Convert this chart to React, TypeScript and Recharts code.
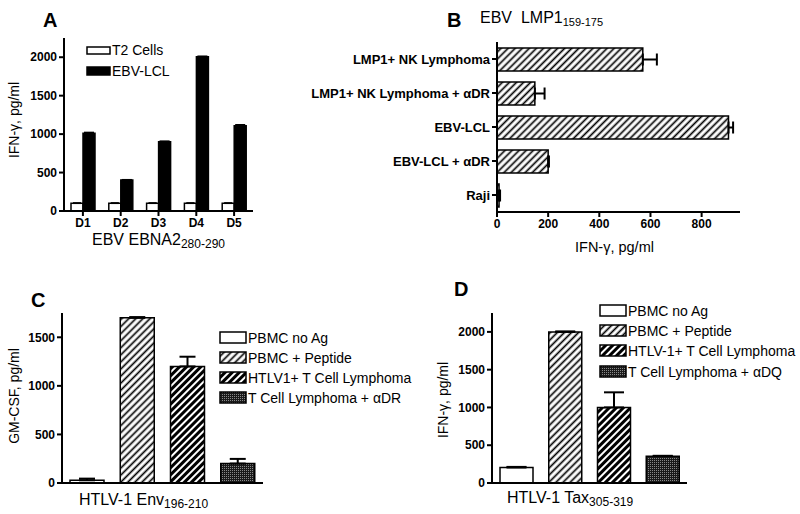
import { BarChart, Bar, XAxis, YAxis, ErrorBar, Cell } from 'recharts';

// panel A - EBV EBNA2
const aDonors = ['D1', 'D2', 'D3', 'D4', 'D5'];
const aT2 = [100, 100, 100, 100, 100];
const aT2Err = [4, 4, 4, 4, 4];
const aLcl = [1010, 403, 902, 2005, 1110];
const aLclErr = [12, 4, 6, 8, 12];

// panel B - EBV LMP1
const bCats = ['LMP1+ NK Lymphoma', 'LMP1+ NK Lymphoma + \u03b1DR', 'EBV-LCL', 'EBV-LCL + \u03b1DR', 'Raji'];
const bVals = [570, 148, 905, 200, 8];
const bErr = [55, 38, 18, 3, 4];

// panel C - HTLV-1 Env
const cCats = ['PBMC no Ag', 'PBMC + Peptide', 'HTLV1+ T Cell Lymphoma', 'T Cell Lymphoma + \u03b1DR'];
const cVals = [28, 1700, 1200, 200];
const cErr = [17, 8, 100, 48];

// panel D - HTLV-1 Tax
const dCats = ['PBMC no Ag', 'PBMC + Peptide', 'HTLV-1+ T Cell Lymphoma', 'T Cell Lymphoma + \u03b1DQ'];
const dVals = [205, 2000, 1000, 355];
const dErr = [8, 6, 200, 5];

const fills = ['#fff', 'url(#hatchLight)', 'url(#hatchDark)', 'url(#dots)'];

const aData = aDonors.map((name, i) => ({ name, t2: aT2[i], t2Err: [0, aT2Err[i]], lcl: aLcl[i], lclErr: [0, aLclErr[i]] }));
const bData = bCats.map((name, i) => ({ name, v: bVals[i], err: [0, bErr[i]] }));
const cData = cCats.map((name, i) => ({ name, v: cVals[i], err: [0, cErr[i]] }));
const dData = dCats.map((name, i) => ({ name, v: dVals[i], err: [0, dErr[i]] }));

const FONT = '"Liberation Sans", Arial, sans-serif';
const tickStyle = { fontSize: 12, fontWeight: 'bold', fill: '#000', fontFamily: FONT };
const axisLine = { stroke: '#000', strokeWidth: 2 };

const box = (left: number, top: number) => ({ position: 'absolute' as const, left, top });

function Legend({ x, ys, labels }: { x: number; ys: number[]; labels: string[] }) {
  return (
    <g>
      {labels.map((l, i) => (
        <g key={l}>
          <rect x={x} y={ys[i]} width={26} height={11} fill={fills[i]} stroke="#000" strokeWidth={1.5} />
          <text x={x + 28} y={ys[i] + 11} fontSize={14}>{l}</text>
        </g>
      ))}
    </g>
  );
}

export default function App() {
  return (
    <div style={{ position: 'absolute', left: 0, top: 0, width: 800, height: 514, background: '#fff', fontFamily: FONT }}>
      <div style={box(0, 0)}>
        <BarChart width={270} height={250} data={aData} margin={{ top: 38, right: 17, bottom: 19, left: 24 }} barGap={0} barSize={12}>
          <XAxis dataKey="name" height={20} tick={tickStyle} axisLine={axisLine} tickLine={axisLine} tickSize={5} />
          <YAxis width={40} domain={[0, 2250]} ticks={[0, 500, 1000, 1500, 2000]} tick={tickStyle} axisLine={axisLine} tickLine={axisLine} tickSize={5} />
          <Bar dataKey="t2" fill="#fff" stroke="#000" strokeWidth={1.5} isAnimationActive={false}>
            <ErrorBar dataKey="t2Err" width={4} stroke="#000" strokeWidth={1.5} />
          </Bar>
          <Bar dataKey="lcl" fill="#000" stroke="#000" strokeWidth={1.5} isAnimationActive={false}>
            <ErrorBar dataKey="lclErr" width={5} stroke="#000" strokeWidth={1.5} />
          </Bar>
        </BarChart>
      </div>

      <div style={box(270, 0)}>
        <BarChart width={530} height={250} data={bData} layout="vertical" margin={{ top: 42, right: 60, bottom: 18, left: 7 }} barSize={23}>
          <XAxis type="number" height={20} domain={[0, 950]} ticks={[0, 200, 400, 600, 800]} tick={tickStyle} axisLine={axisLine} tickLine={axisLine} tickSize={5} />
          <YAxis type="category" dataKey="name" width={220} tick={{ ...tickStyle, fontSize: 13 }} axisLine={axisLine} tickLine={axisLine} tickSize={5} />
          <Bar dataKey="v" fill="url(#hatchLight)" stroke="#000" strokeWidth={1.5} isAnimationActive={false}>
            <ErrorBar dataKey="err" width={6} stroke="#000" strokeWidth={2} direction="x" />
          </Bar>
        </BarChart>
      </div>

      <div style={box(0, 260)}>
        <BarChart width={400} height={254} data={cData} margin={{ top: 53, right: 137, bottom: 27, left: 22 }} barSize={34}>
          <XAxis dataKey="name" height={4} tick={false} axisLine={axisLine} tickLine={false} />
          <YAxis width={40} domain={[0, 1750]} ticks={[0, 500, 1000, 1500]} tick={tickStyle} axisLine={axisLine} tickLine={axisLine} tickSize={5} />
          <Bar dataKey="v" stroke="#000" strokeWidth={1.5} isAnimationActive={false}>
            {cData.map((r, i) => <Cell key={r.name} fill={fills[i]} />)}
            <ErrorBar dataKey="err" width={8} stroke="#000" strokeWidth={2} />
          </Bar>
        </BarChart>
      </div>

      <div style={box(400, 260)}>
        <BarChart width={400} height={254} data={dData} margin={{ top: 53, right: 113, bottom: 27, left: 52 }} barSize={33}>
          <XAxis dataKey="name" height={4} tick={false} axisLine={axisLine} tickLine={false} />
          <YAxis width={40} domain={[0, 2250]} ticks={[0, 500, 1000, 1500, 2000]} tick={tickStyle} axisLine={axisLine} tickLine={axisLine} tickSize={5} />
          <Bar dataKey="v" stroke="#000" strokeWidth={1.5} isAnimationActive={false}>
            {dData.map((r, i) => <Cell key={r.name} fill={fills[i]} />)}
            <ErrorBar dataKey="err" width={10} stroke="#000" strokeWidth={2} />
          </Bar>
        </BarChart>
      </div>

      {/* titles, axis labels, legends */}
      <svg width={800} height={514} style={{ position: 'absolute', left: 0, top: 0, pointerEvents: 'none' }} fontFamily={FONT} fill="#000">
        <defs>
          <pattern id="hatchLight" patternUnits="userSpaceOnUse" width="5" height="5" patternTransform="rotate(45)">
            <rect width="5" height="5" fill="#fff" />
            <line x1="2.5" y1="0" x2="2.5" y2="5" stroke="#000" strokeWidth="1.7" />
          </pattern>
          <pattern id="hatchDark" patternUnits="userSpaceOnUse" width="5" height="5" patternTransform="rotate(45)">
            <rect width="5" height="5" fill="#fff" />
            <line x1="2.5" y1="0" x2="2.5" y2="5" stroke="#000" strokeWidth="3" />
          </pattern>
          <pattern id="dots" patternUnits="userSpaceOnUse" width="2" height="2">
            <rect width="2" height="2" fill="#1a1a1a" />
            <rect width="1" height="1" fill="#888" />
          </pattern>
        </defs>

        <text x={43} y={27} fontSize={20} fontWeight="bold">A</text>
        <text x={447} y={27} fontSize={20} fontWeight="bold">B</text>
        <text x={31} y={307} fontSize={20} fontWeight="bold">C</text>
        <text x={454} y={296} fontSize={20} fontWeight="bold">D</text>

        <text x={480} y={23} fontSize={16}>EBV{'\u00a0\u00a0'}LMP1<tspan fontSize={11} dy={3}>159-175</tspan></text>

        <text transform="translate(14,120) rotate(-90)" textAnchor="middle" dominantBaseline="central" fontSize={14}>IFN-{'\u03b3'}, pg/ml</text>
        <text transform="translate(14,396) rotate(-90)" textAnchor="middle" dominantBaseline="central" fontSize={14}>GM-CSF, pg/ml</text>
        <text transform="translate(443,400) rotate(-90)" textAnchor="middle" dominantBaseline="central" fontSize={14}>IFN-{'\u03b3'}, pg/ml</text>

        <text x={92} y={245} fontSize={16}>EBV EBNA2<tspan fontSize={12} dy={3}>280-290</tspan></text>
        <text x={575} y={252} fontSize={14.5}>IFN-{'\u03b3'}, pg/ml</text>
        <text x={79} y={505} fontSize={16}>HTLV-1 Env<tspan fontSize={12} dy={3}>196-210</tspan></text>
        <text x={507} y={503} fontSize={16}>HTLV-1 Tax<tspan fontSize={12} dy={3}>305-319</tspan></text>

        <rect x={87} y={47} width={23} height={7} fill="#fff" stroke="#000" strokeWidth={1.5} />
        <text x={112} y={55} fontSize={14}>T2 Cells</text>
        <rect x={87} y={67} width={23} height={8} fill="#000" stroke="#000" strokeWidth={1.5} />
        <text x={112} y={76} fontSize={14}>EBV-LCL</text>

        <Legend x={220} ys={[332, 352, 372, 392]} labels={cCats} />
        <Legend x={600} ys={[305, 325, 345, 366]} labels={dCats} />
      </svg>
    </div>
  );
}
